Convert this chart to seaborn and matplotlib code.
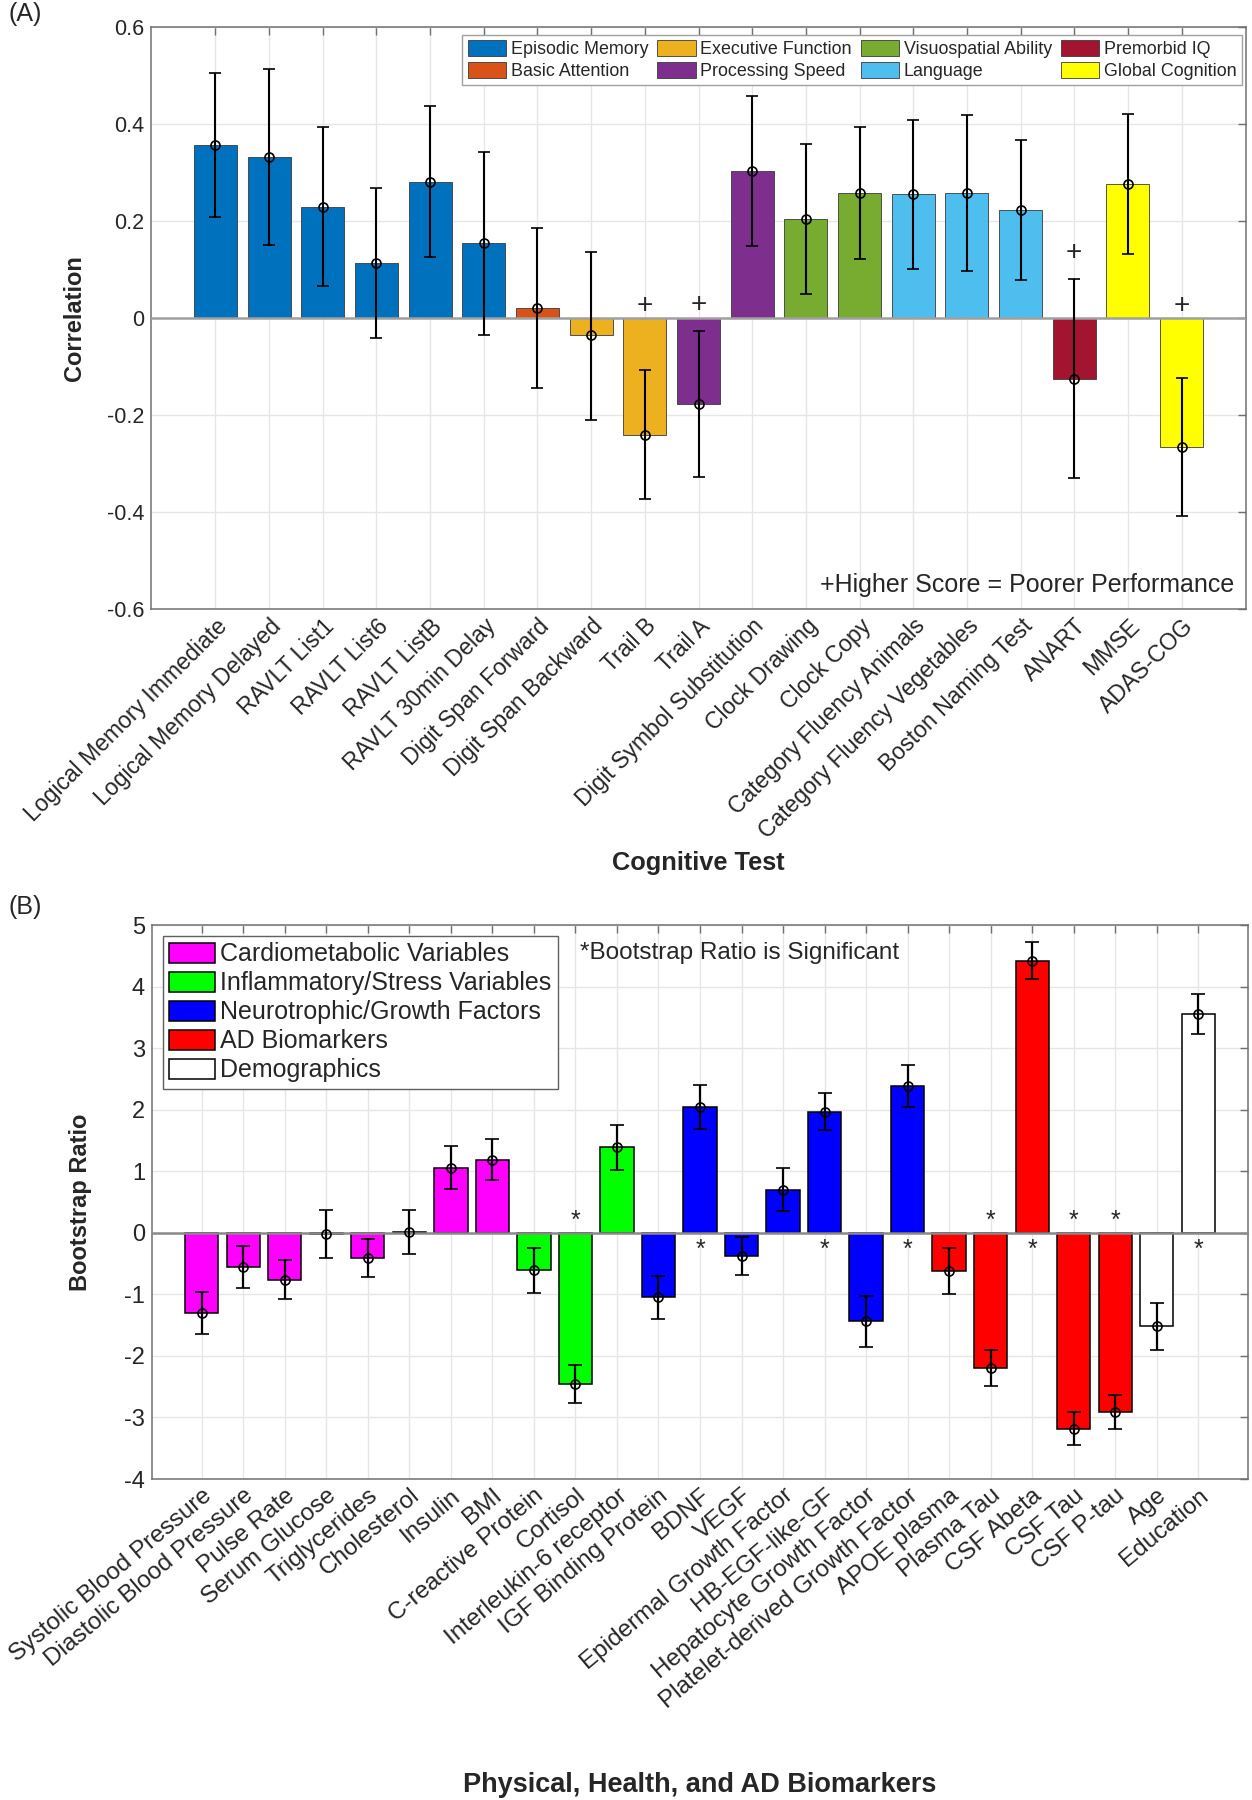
import numpy as np
import pandas as pd
import matplotlib
matplotlib.use("Agg")
import matplotlib.pyplot as plt
import seaborn as sns

# ---------------- Panel A data ----------------
tests_a = ["Logical Memory Immediate", "Logical Memory Delayed", "RAVLT List1", "RAVLT List6",
           "RAVLT ListB", "RAVLT 30min Delay", "Digit Span Forward", "Digit Span Backward",
           "Trail B", "Trail A", "Digit Symbol Substitution", "Clock Drawing", "Clock Copy",
           "Category Fluency Animals", "Category Fluency Vegetables", "Boston Naming Test",
           "ANART", "MMSE", "ADAS-COG"]
domain_a = ["Episodic Memory"] * 6 + ["Basic Attention", "Executive Function", "Executive Function",
            "Processing Speed", "Processing Speed", "Visuospatial Ability", "Visuospatial Ability",
            "Language", "Language", "Language", "Premorbid IQ", "Global Cognition", "Global Cognition"]
corr_a = [0.357, 0.331, 0.229, 0.113, 0.281, 0.154, 0.020, -0.036, -0.241, -0.177,
          0.304, 0.205, 0.258, 0.256, 0.258, 0.223, -0.125, 0.277, -0.267]
lo_a = [0.208, 0.150, 0.066, -0.041, 0.125, -0.035, -0.145, -0.210, -0.374, -0.327,
        0.148, 0.050, 0.122, 0.102, 0.096, 0.078, -0.330, 0.131, -0.408]
hi_a = [0.506, 0.513, 0.393, 0.268, 0.438, 0.343, 0.186, 0.137, -0.107, -0.027,
        0.457, 0.358, 0.394, 0.408, 0.418, 0.367, 0.080, 0.421, -0.124]
reversed_a = ["Trail B", "Trail A", "ANART", "ADAS-COG"]
domains_a = ["Episodic Memory", "Basic Attention", "Executive Function", "Processing Speed",
             "Visuospatial Ability", "Language", "Premorbid IQ", "Global Cognition"]
colors_a = ["#0072BD", "#D95319", "#EDB120", "#7E2F8E", "#77AC30", "#4DBEEE", "#A2142F", "#FFFF00"]
yticks_a = [-0.6, -0.4, -0.2, 0, 0.2, 0.4, 0.6]
yticklabels_a = ["-0.6", "-0.4", "-0.2", "0", "0.2", "0.4", "0.6"]

# ---------------- Panel B data ----------------
vars_b = ["Systolic Blood Pressure", "Diastolic Blood Pressure", "Pulse Rate", "Serum Glucose",
          "Triglycerides", "Cholesterol", "Insulin", "BMI", "C-reactive Protein", "Cortisol",
          "Interleukin-6 receptor", "IGF Binding Protein", "BDNF", "VEGF", "Epidermal Growth Factor",
          "HB-EGF-like-GF", "Hepatocyte Growth Factor", "Platelet-derived Growth Factor",
          "APOE plasma", "Plasma Tau", "CSF Abeta", "CSF Tau", "CSF P-tau", "Age", "Education"]
group_b = ["Cardiometabolic Variables"] * 8 + ["Inflammatory/Stress Variables"] * 3 + \
          ["Neurotrophic/Growth Factors"] * 7 + ["AD Biomarkers"] * 5 + ["Demographics"] * 2
bsr_b = [-1.31, -0.555, -0.76, -0.02, -0.41, 0.015, 1.06, 1.19, -0.61, -2.46,
         1.39, -1.05, 2.04, -0.38, 0.70, 1.97, -1.44, 2.385, -0.625, -2.20,
         4.42, -3.18, -2.91, -1.52, 3.55]
err_b = [0.34, 0.34, 0.32, 0.39, 0.31, 0.36, 0.35, 0.33, 0.37, 0.31,
         0.365, 0.355, 0.36, 0.31, 0.345, 0.30, 0.41, 0.345, 0.37, 0.295,
         0.30, 0.275, 0.275, 0.38, 0.325]
signif_b = ["Cortisol", "BDNF", "HB-EGF-like-GF", "Platelet-derived Growth Factor", "Plasma Tau",
            "CSF Abeta", "CSF Tau", "CSF P-tau", "Education"]
groups_b = ["Cardiometabolic Variables", "Inflammatory/Stress Variables",
            "Neurotrophic/Growth Factors", "AD Biomarkers", "Demographics"]
colors_b = ["#FF00FF", "#00FF00", "#0000FF", "#FF0000", "#FFFFFF"]
yticks_b = [-4, -3, -2, -1, 0, 1, 2, 3, 4, 5]

# ---------------- style ----------------
sns.set_style("white")
plt.rcParams["font.family"] = ["Liberation Sans", "DejaVu Sans"]
plt.rcParams["axes.unicode_minus"] = False

W, H = 1252, 1800
fig = plt.figure(figsize=(W / 100, H / 100), dpi=100)

def px_axes(l, t, r, b):
    return fig.add_axes([l / W, 1 - b / H, (r - l) / W, (b - t) / H])

axA = px_axes(151, 27, 1246, 609)
axB = px_axes(152, 925, 1248, 1479)

spine_col = "#707070"
grid_col = "#e6e6e6"

def style_axes(ax, tick_fs):
    for s in ax.spines.values():
        s.set_color(spine_col)
        s.set_linewidth(1.1)
        s.set_visible(True)
    ax.grid(True, color=grid_col, lw=1.0, zorder=0)
    ax.set_axisbelow(True)
    ax.tick_params(direction="in", top=True, right=True, length=6, width=1.0,
                   color=spine_col, labelsize=tick_fs, pad=5)

# ---------------- Panel A ----------------
dfA = pd.DataFrame({"test": tests_a, "domain": domain_a, "r": corr_a})
sns.barplot(data=dfA, x="test", y="r", hue="domain", hue_order=domains_a,
            palette=dict(zip(domains_a, colors_a)), dodge=False, width=0.8, saturation=1,
            edgecolor="#3a3a3a", linewidth=0.6, ax=axA, errorbar=None, zorder=2)
xa = np.arange(len(tests_a))
ra = np.array(corr_a)
axA.errorbar(xa, ra, yerr=[ra - np.array(lo_a), np.array(hi_a) - ra], fmt="o",
             mfc="none", mec="black", mew=1.2, ms=6.5, ecolor="black", elinewidth=1.5,
             capsize=4, capthick=1.6, zorder=4)
axA.axhline(0, color="#a0a0a0", lw=1.8, zorder=3)
for i, t in enumerate(tests_a):
    if t in reversed_a:
        ypos = max(hi_a[i] + 0.054, 0.025)
        axA.text(i, ypos, "+", ha="center", va="center", fontsize=20, zorder=5)
axA.set_xlim(-1.2, len(tests_a) - 1 + 1.2)
axA.set_ylim(-0.6, 0.6)
axA.set_yticks(yticks_a)
axA.set_yticklabels(yticklabels_a)
style_axes(axA, 15.5)
axA.set_xticks(xa)
axA.set_xticklabels(tests_a, rotation=45, ha="right", va="top", rotation_mode="anchor",
                    fontsize=16.6)
axA.tick_params(axis="x", pad=4)
axA.set_xlabel("")
axA.set_ylabel("Correlation", fontsize=17, fontweight="bold")
axA.yaxis.set_label_coords(-0.059, 0.5)
fig.text(698 / W, 1 - 863 / H, "Cognitive Test", ha="center", va="center",
         fontsize=18.3, fontweight="bold")
axA.text(0.9895, 1 - (585 - 27) / 582, "+Higher Score = Poorer Performance", transform=axA.transAxes,
         ha="right", va="center", fontsize=18)
hA, lA = axA.get_legend_handles_labels()
axA.legend(hA, lA, ncol=4, loc="upper right", bbox_to_anchor=(0.9963, 0.9863),
           fontsize=12.9, frameon=True, fancybox=False, framealpha=1, edgecolor="#a0a0a0",
           handlelength=2.15, handleheight=0.95, handletextpad=0.25, labelspacing=0.22,
           columnspacing=0.5, borderpad=0.3, borderaxespad=0)

# ---------------- Panel B ----------------
dfB = pd.DataFrame({"var": vars_b, "group": group_b, "bsr": bsr_b})
sns.barplot(data=dfB, x="var", y="bsr", hue="group", hue_order=groups_b,
            palette=dict(zip(groups_b, colors_b)), dodge=False, width=0.8, saturation=1,
            edgecolor="black", linewidth=1.1, ax=axB, errorbar=None, zorder=2)
xb = np.arange(len(vars_b))
axB.errorbar(xb, bsr_b, yerr=err_b, fmt="o", mfc="none", mec="black", mew=1.2, ms=6.5,
             ecolor="black", elinewidth=1.6, capsize=5, capthick=1.6, zorder=4)
axB.axhline(0, color="#8a8a8a", lw=1.8, zorder=3)
for i, v in enumerate(vars_b):
    if v in signif_b:
        ypos = 0.19 if bsr_b[i] < 0 else -0.28
        axB.text(i, ypos, "*", ha="center", va="center", fontsize=18, zorder=5)
axB.set_xlim(-1.2, len(vars_b) - 1 + 1.2)
axB.set_ylim(-4, 5)
axB.set_yticks(yticks_b)
axB.set_yticklabels([str(t) for t in yticks_b])
style_axes(axB, 17)
axB.set_xticks(xb)
axB.set_xticklabels(vars_b, rotation=40, ha="right", va="top", rotation_mode="anchor",
                    fontsize=17.5)
axB.tick_params(axis="x", pad=4)
axB.set_xlabel("")
axB.set_ylabel("Bootstrap Ratio", fontsize=17, fontweight="bold")
axB.yaxis.set_label_coords(-0.055, 0.5)
fig.text(700 / W, 1 - 1785 / H, "Physical, Health, and AD Biomarkers", ha="center", va="center",
         fontsize=19.5, fontweight="bold")
axB.text((580 - 152) / 1096, 1 - (953 - 925) / 554, "*Bootstrap Ratio is Significant",
         transform=axB.transAxes, ha="left", va="center", fontsize=17.5)
hB, lB = axB.get_legend_handles_labels()
axB.legend(hB, lB, ncol=1, loc="upper left", bbox_to_anchor=(0.010, 0.980),
           fontsize=18, frameon=True, fancybox=False, framealpha=1, edgecolor="#606060",
           handlelength=1.85, handleheight=0.85, handletextpad=0.2, labelspacing=0.2,
           borderpad=0.25, borderaxespad=0)
for p in axB.get_legend().get_patches():
    p.set_edgecolor("black")
    p.set_linewidth(1.1)

fig.text(25 / W, 1 - 14 / H, "(A)", ha="center", va="center", fontsize=18)
fig.text(25 / W, 1 - 907 / H, "(B)", ha="center", va="center", fontsize=18)

fig.savefig("out.png", dpi=100)
